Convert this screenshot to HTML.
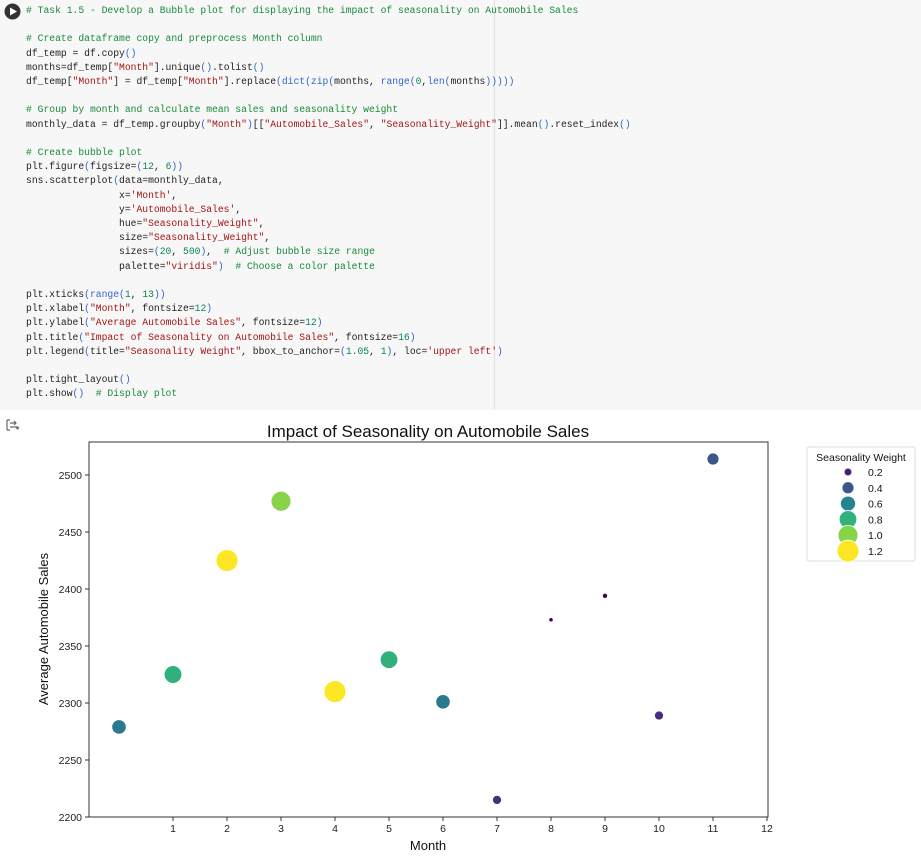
<!DOCTYPE html>
<html><head><meta charset="utf-8"><style>
body{margin:0;width:921px;height:858px;background:#fff;overflow:hidden;font-family:"Liberation Sans",sans-serif}
#code{position:absolute;left:0;top:0;width:921px;height:410px;background:#f7f7f7}
#code pre{position:absolute;left:26px;top:4px;margin:0;font-family:"Liberation Mono","DejaVu Sans Mono",monospace;font-size:9.7px;line-height:14.2px;color:#222}
.c{color:#198a3a}.s{color:#a31515}.n{color:#098658}.p{color:#3466c8}
#ruler{position:absolute;left:494px;top:0;width:1px;height:410px;background:#e0e0e0}
</style></head><body>
<div id="code">
<svg style="position:absolute;left:4px;top:3px" width="17" height="17"><circle cx="8.5" cy="8.5" r="8" fill="#333"/><polygon points="6,4.5 13,8.5 6,12.5" fill="#fff"/></svg>
<div id="ruler"></div>
<pre><span class="c"># Task 1.5 - Develop a Bubble plot for displaying the impact of seasonality on Automobile Sales</span>

<span class="c"># Create dataframe copy and preprocess Month column</span>
df_temp = df.copy<span class="p">()</span>
months=df_temp[<span class="s">"Month"</span>].unique<span class="p">()</span>.tolist<span class="p">()</span>
df_temp[<span class="s">"Month"</span>] = df_temp[<span class="s">"Month"</span>].replace<span class="p">(dict(zip(</span>months, <span class="p">range(</span><span class="n">0</span>,<span class="p">len(</span>months<span class="p">)))))</span>

<span class="c"># Group by month and calculate mean sales and seasonality weight</span>
monthly_data = df_temp.groupby<span class="p">(</span><span class="s">"Month"</span><span class="p">)</span>[[<span class="s">"Automobile_Sales"</span>, <span class="s">"Seasonality_Weight"</span>]].mean<span class="p">()</span>.reset_index<span class="p">()</span>

<span class="c"># Create bubble plot</span>
plt.figure<span class="p">(</span>figsize=<span class="p">(</span><span class="n">12</span>, <span class="n">6</span><span class="p">))</span>
sns.scatterplot<span class="p">(</span>data=monthly_data,
                x=<span class="s">'Month'</span>,
                y=<span class="s">'Automobile_Sales'</span>,
                hue=<span class="s">"Seasonality_Weight"</span>,
                size=<span class="s">"Seasonality_Weight"</span>,
                sizes=<span class="p">(</span><span class="n">20</span>, <span class="n">500</span><span class="p">)</span>,  <span class="c"># Adjust bubble size range</span>
                palette=<span class="s">"viridis"</span><span class="p">)</span>  <span class="c"># Choose a color palette</span>

plt.xticks<span class="p">(range(</span><span class="n">1</span>, <span class="n">13</span><span class="p">))</span>
plt.xlabel<span class="p">(</span><span class="s">"Month"</span>, fontsize=<span class="n">12</span><span class="p">)</span>
plt.ylabel<span class="p">(</span><span class="s">"Average Automobile Sales"</span>, fontsize=<span class="n">12</span><span class="p">)</span>
plt.title<span class="p">(</span><span class="s">"Impact of Seasonality on Automobile Sales"</span>, fontsize=<span class="n">16</span><span class="p">)</span>
plt.legend<span class="p">(</span>title=<span class="s">"Seasonality Weight"</span>, bbox_to_anchor=<span class="p">(</span><span class="n">1.05</span>, <span class="n">1</span><span class="p">)</span>, loc=<span class="s">'upper left'</span><span class="p">)</span>

plt.tight_layout<span class="p">()</span>
plt.show<span class="p">()</span>  <span class="c"># Display plot</span></pre>
</div>
<svg style="position:absolute;left:5px;top:418px" width="16" height="14"><g stroke="#666" fill="none" stroke-width="1.2"><path d="M2 2h3M2 12h3M2 2v10"/><path d="M5 5h6M9 3l2 2-2 2M5 9h8M11 9l1.5 2 1.5-2"/></g></svg>
<svg id="chart" width="921" height="858" style="position:absolute;left:0;top:0"></svg>
<script>
const months=[0,1,2,3,4,5,6,7,8,9,10,11];
const sales=[2279,2325,2425,2477,2310,2338,2301,2215,2373,2394,2289,2514];
const weights=[0.55,0.8,1.2,1.0,1.2,0.8,0.55,0.25,0.1,0.12,0.25,0.4];
const yTicks=[2200,2250,2300,2350,2400,2450,2500];
const xTicks=[1,2,3,4,5,6,7,8,9,10,11,12];
const legendVals=[0.2,0.4,0.6,0.8,1.0,1.2];
const NS='http://www.w3.org/2000/svg';
const svg=document.getElementById('chart');
const L=89,R=768,T=442,B=817;
const xS=v=>119+v*54;
const yS=v=>817-(v-2200)*1.14;
const wmin=0.1,wmax=1.2;
const vir=[[68,1,84],[72,40,120],[62,74,137],[49,104,142],[38,130,142],[31,158,137],[53,183,121],[109,205,89],[180,222,44],[253,231,37]];
function col(w){let t=Math.max(0,Math.min(1,(w-wmin)/(wmax-wmin)))*9;let i=Math.min(8,Math.floor(t)),f=t-i;const a=vir[i],b=vir[i+1];return 'rgb('+a.map((c,k)=>Math.round(c+(b[k]-c)*f)).join(',')+')';}
function rad(w){const t=Math.max(0,Math.min(1,(w-wmin)/(wmax-wmin)));return Math.sqrt(20+t*480)*0.98/2;}
function mk(tag,attrs,parent){const e=document.createElementNS(NS,tag);for(const k in attrs)e.setAttribute(k,attrs[k]);(parent||svg).appendChild(e);return e;}
let t=mk('text',{x:428,y:437,'text-anchor':'middle','font-size':'17','fill':'#111'});t.textContent='Impact of Seasonality on Automobile Sales';


let fr=mk('rect',{x:L,y:T,width:R-L,height:B-T,fill:'none',stroke:'#333','stroke-width':1});


yTicks.forEach(v=>{const y=yS(v);mk('line',{x1:L-4,x2:L,y1:y,y2:y,stroke:'#333'});const tx=mk('text',{x:L-7,y:y+4,'text-anchor':'end','font-size':'10.5',fill:'#222'});tx.textContent=v;

});
xTicks.forEach(v=>{const x=xS(v);mk('line',{x1:x,x2:x,y1:B,y2:B+4,stroke:'#333'});const tx=mk('text',{x:x,y:B+15,'text-anchor':'middle','font-size':'10.5',fill:'#222'});tx.textContent=v;

});
let xl=mk('text',{x:428,y:850,'text-anchor':'middle','font-size':'13',fill:'#111'});xl.textContent='Month';


let yl=mk('text',{x:0,y:0,'text-anchor':'middle','font-size':'13',fill:'#111',transform:'translate(48,629) rotate(-90)'});yl.textContent='Average Automobile Sales';


months.forEach((m,i)=>{const c=mk('circle',{cx:xS(m),cy:yS(sales[i]),r:rad(weights[i]),fill:col(weights[i]),stroke:'#fff','stroke-width':0.8});

});
const lg=mk('g',{});


mk('rect',{x:807,y:447,width:108,height:114,rx:2,fill:'#fff',stroke:'#ddd'},lg);
let lt=mk('text',{x:861,y:461,'text-anchor':'middle','font-size':'10.5',fill:'#111'},lg);lt.textContent='Seasonality Weight';
legendVals.forEach((v,i)=>{const y=472+i*15.8;const c=mk('circle',{cx:848,cy:y,r:rad(v),fill:col(v),stroke:'#fff','stroke-width':0.8},lg);


const tx=mk('text',{x:868,y:y+4,'font-size':'10.5',fill:'#111'},lg);tx.textContent=v.toFixed(1);

});
</script>
</body></html>
